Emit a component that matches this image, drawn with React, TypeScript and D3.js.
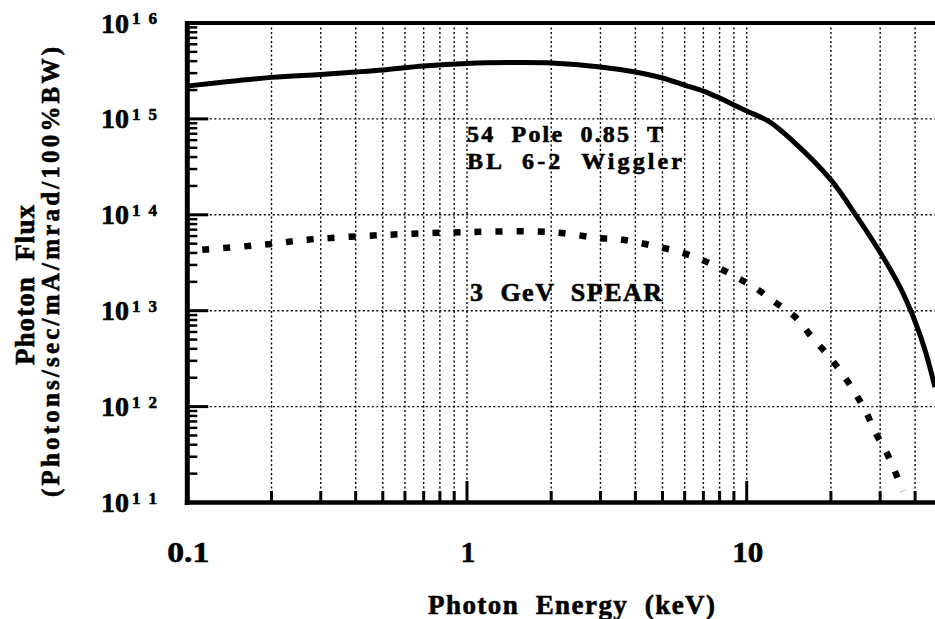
import React from "react";
import * as d3 from "d3";

// ---- data ----
const energyWiggler = [0.1, 0.2, 0.3, 0.4, 0.5, 0.7, 1, 1.5, 2, 3, 4, 5, 6, 7, 8, 9, 10, 12, 14.6, 20, 24.8, 30.7, 35.3, 39.8, 43.4, 47.1];
const fluxWiggler = [2.2e15, 2.71e15, 2.9e15, 3.08e15, 3.24e15, 3.56e15, 3.79e15, 3.87e15, 3.83e15, 3.48e15, 3.08e15, 2.67e15, 2.25e15, 1.95e15, 1.65e15, 1.4e15, 1.21e15, 9.4e14, 5.9e14, 2.31e14, 9.5e13, 3.63e13, 1.77e13, 8.0e12, 3.9e12, 1.6e12];

const energySpear = [0.1, 0.2, 0.26, 0.5, 1, 2, 3, 3.44, 4.02, 4.7, 5.59, 6.64, 7.71, 9.02, 10.6, 12.6, 14.9, 17.1, 19.5, 21.9, 24.4, 26.7, 28.8, 31.5, 33.9, 36.2];
const fluxSpear = [4.2e13, 4.97e13, 5.46e13, 6.15e13, 6.6e13, 6.6e13, 5.7e13, 5.6e13, 5.2e13, 4.7e13, 4.2e13, 3.55e13, 2.93e13, 2.3e13, 1.77e13, 1.23e13, 8.6e12, 5.3e12, 3.45e12, 2.24e12, 1.39e12, 8.8e11, 5.4e11, 3.4e11, 2.1e11, 1.32e11];

const xTickValues = [0.1, 1, 10];
const xTickLabels = ["0.1", "1", "10"];
const yDecadeExponents = [11, 12, 13, 14, 15, 16];
const annotationWiggler = ["54  Pole  0.85  T", "BL  6-2  Wiggler"];
const annotationSpear = "3  GeV  SPEAR";
const xTitle = "Photon  Energy  (keV)";
const yTitle1 = "Photon  Flux";
const yTitle2 = "(Photons/sec/mA/mrad/100%BW)";

const W = 935;
const H = 619;
const FONT = "'Liberation Serif', 'Times New Roman', serif";

export default function App() {
  const x0 = 187.3;
  const decadePx = 279.7;
  const x = d3.scaleLog().domain([0.1, 100]).range([x0, x0 + 3 * decadePx]);
  const y = d3.scaleLog().domain([1e11, 1e16]).range([502.5, 23]);
  const right = W;

  const line = d3
    .line<[number, number]>()
    .x((d) => x(d[0]))
    .y((d) => y(d[1]))
    .curve(d3.curveCatmullRom.alpha(0.5));

  const wigglerPts = energyWiggler.map((e, i) => [e, fluxWiggler[i]] as [number, number]);
  const spearPts = energySpear.map((e, i) => [e, fluxSpear[i]] as [number, number]);

  const xMinor: number[] = [];
  [0.1, 1, 10].forEach((dec) => {
    for (let m = 1; m <= 9; m++) {
      const v = dec * m;
      if (v > 0.1 && x(v) < right) xMinor.push(v);
    }
  });
  const yMinor: number[] = [];
  [11, 12, 13, 14, 15].forEach((p) => {
    for (let m = 2; m <= 9; m++) yMinor.push(m * Math.pow(10, p));
  });

  const textStyle = { whiteSpace: "pre" as const };
  const bold = { stroke: "#000", strokeWidth: 0.6 };

  return (
    <svg
      width={W}
      height={H}
      style={{ position: "absolute", left: 0, top: 0, background: "#fff" }}
      fontFamily={FONT}
      fontWeight="bold"
    >
      <defs>
        <clipPath id="plotClip">
          <rect x={x0} y={21} width={right - x0} height={502.5 - 21} />
        </clipPath>
      </defs>
      <rect x={0} y={0} width={W} height={H} fill="#fff" />

      {/* vertical dotted grid */}
      {xMinor.map((v) => (
        <line
          key={"vg" + v}
          x1={x(v)}
          x2={x(v)}
          y1={23}
          y2={502}
          stroke="#000"
          strokeWidth={1.4}
          strokeDasharray="2 2.5"
        />
      ))}
      {/* horizontal dotted grid */}
      {yDecadeExponents
        .filter((p) => p > 11 && p < 16)
        .map((p) => (
          <line
            key={"hg" + p}
            x1={x0}
            x2={right}
            y1={y(Math.pow(10, p))}
            y2={y(Math.pow(10, p))}
            stroke="#000"
            strokeWidth={1.4}
            strokeDasharray="2 2.5"
          />
        ))}

      {/* y minor ticks */}
      {yMinor.map((v) => (
        <line key={"ym" + v} x1={x0} x2={x0 + 10} y1={y(v)} y2={y(v)} stroke="#000" strokeWidth={2.5} />
      ))}
      {/* y major ticks */}
      {yDecadeExponents
        .filter((p) => p > 11 && p < 16)
        .map((p) => (
          <line
            key={"yM" + p}
            x1={x0}
            x2={x0 + 21}
            y1={y(Math.pow(10, p))}
            y2={y(Math.pow(10, p))}
            stroke="#000"
            strokeWidth={3}
          />
        ))}
      {/* x ticks */}
      {xMinor.map((v) => {
        const major = Math.abs(Math.log10(v) - Math.round(Math.log10(v))) < 1e-9;
        return (
          <line
            key={"xt" + v}
            x1={x(v)}
            x2={x(v)}
            y1={502.5}
            y2={major ? 481 : 491}
            stroke="#000"
            strokeWidth={3}
          />
        );
      })}

      {/* curves */}
      <g clipPath="url(#plotClip)">
        <path d={line(wigglerPts) || ""} fill="none" stroke="#000" strokeWidth={5} strokeLinejoin="round" />
        <path
          d={line(spearPts) || ""}
          fill="none"
          stroke="#000"
          strokeWidth={6.5}
          strokeDasharray="7 14"
          strokeDashoffset={6}
        />
      </g>

      {/* frame */}
      <line x1={x0} x2={right} y1={23} y2={23} stroke="#000" strokeWidth={4} />
      <line x1={x0} x2={x0} y1={21} y2={505} stroke="#000" strokeWidth={5} />
      <line x1={x0 - 2.5} x2={right} y1={502.5} y2={502.5} stroke="#000" strokeWidth={4.5} />

      {/* y tick labels */}
      {yDecadeExponents.map((p) => {
        const ty = y(Math.pow(10, p));
        return (
          <g key={"yl" + p} {...bold}>
            <text x={101} y={ty + 9.5} fontSize={28} textLength={28} lengthAdjust="spacingAndGlyphs">
              10
            </text>
            <text x={132} y={ty + 1} fontSize={17} textLength={25} lengthAdjust="spacing">
              {String(p)}
            </text>
          </g>
        );
      })}

      {/* x tick labels */}
      {xTickValues.map((v, i) => (
        <text
          key={"xl" + v}
          x={x(v) + 1}
          y={562}
          fontSize={29}
          textAnchor="middle"
          textLength={i === 0 ? 42 : i === 2 ? 31 : undefined}
          lengthAdjust="spacingAndGlyphs"
          {...bold}
        >
          {xTickLabels[i]}
        </text>
      ))}

      {/* annotations */}
      <g {...bold}>
        <text x={467} y={142} fontSize={24} style={textStyle} textLength={196} lengthAdjust="spacing">
          {annotationWiggler[0]}
        </text>
        <text x={467} y={169} fontSize={24} style={textStyle} textLength={215} lengthAdjust="spacing">
          {annotationWiggler[1]}
        </text>
        <text x={470} y={301} fontSize={26} style={textStyle} textLength={192} lengthAdjust="spacing">
          {annotationSpear}
        </text>

        {/* axis titles */}
        <text x={428} y={614} fontSize={27} style={textStyle} textLength={287} lengthAdjust="spacing">
          {xTitle}
        </text>
        <text
          transform="translate(33.5,285) rotate(-90)"
          textAnchor="middle"
          fontSize={27}
          style={textStyle}
          textLength={160}
          lengthAdjust="spacing"
        >
          {yTitle1}
        </text>
        <text
          transform="translate(59,272) rotate(-90)"
          textAnchor="middle"
          fontSize={25}
          textLength={450}
          lengthAdjust="spacing"
        >
          {yTitle2}
        </text>
      </g>
    </svg>
  );
}
